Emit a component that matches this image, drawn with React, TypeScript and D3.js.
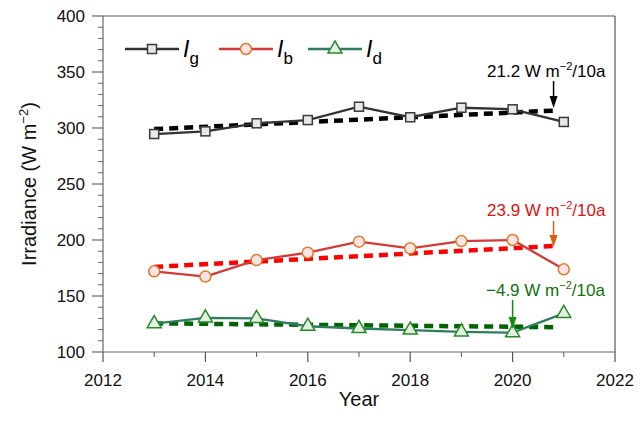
import React from "react";
import * as d3 from "d3";

const years = [2013, 2014, 2015, 2016, 2017, 2018, 2019, 2020, 2021];
const Ig = [294.6, 297, 304.2, 307.1, 319, 309.6, 318.1, 316.7, 305.4];
const Ib = [172, 167.3, 182.1, 188.7, 198.5, 192.6, 199, 200, 173.8];
const Id = [125.3, 130.4, 130, 123, 121, 119.6, 118, 117.3, 134.5];

const trendX = [2013, 2020.8];
const trendIg = [299, 315.5];
const trendIb = [176, 194.6];
const trendId = [125.6, 122.2];

const xTicks = [2012, 2014, 2016, 2018, 2020, 2022];
const yTicks = [100, 150, 200, 250, 300, 350, 400];

const W = 640, H = 426;
const m = { l: 103, r: 615, t: 16, b: 352 };
const FONT = "Liberation Sans, Arial, sans-serif";

export default function App() {
  const x = d3.scaleLinear().domain([2012, 2022]).range([m.l, m.r]);
  const y = d3.scaleLinear().domain([100, 400]).range([m.b, m.t]);
  const line = d3.line<[number, number]>().x(d => x(d[0])).y(d => y(d[1]));
  const pts = (v: number[]) => years.map((yr, i) => [yr, v[i]] as [number, number]);
  const tpts = (v: number[]) => trendX.map((yr, i) => [yr, v[i]] as [number, number]);
  const tri = d3.symbol().type(d3.symbolTriangle).size(85)();
  const minorY = d3.range(100, 401, 10).filter(v => v % 50 !== 0);
  const minorX = d3.range(2013, 2022, 2);

  const series = [
    { v: Ig, t: trendIg, line: "#333333", tcol: "#000000", marker: "sq", mstroke: "#3a3a3a", mfill: "#e8e8e8" },
    { v: Ib, t: trendIb, line: "#d23a3a", tcol: "#ff0000", marker: "ci", mstroke: "#e07a28", mfill: "#fbe4e4" },
    { v: Id, t: trendId, line: "#2e7d5e", tcol: "#006400", marker: "tr", mstroke: "#2a8a2a", mfill: "#e2efe2" },
  ];

  const drawMarker = (s: any, cx: number, cy: number, key: string) => {
    if (s.marker === "sq")
      return <rect key={key} x={cx - 4.5} y={cy - 4.5} width={9} height={9} fill={s.mfill} stroke={s.mstroke} strokeWidth={1.5} />;
    if (s.marker === "ci")
      return <circle key={key} cx={cx} cy={cy} r={5.5} fill={s.mfill} stroke={s.mstroke} strokeWidth={1.5} />;
    return <path key={key} d={tri as string} transform={`translate(${cx},${cy})`} fill={s.mfill} stroke={s.mstroke} strokeWidth={1.5} />;
  };

  const legend = [
    { x0: 125, sub: "g" },
    { x0: 219, sub: "b" },
    { x0: 308, sub: "d" },
  ];

  const annots = [
    { text: "21.2", color: "#000000", acolor: "#000000", tx: 487, ty: 77, ax: x(2020.8), a0: 81, a1: 108 },
    { text: "23.9", color: "#e01010", acolor: "#d86010", tx: 487, ty: 216, ax: x(2020.8), a0: 221, a1: 247 },
    { text: "\u22124.9", color: "#107010", acolor: "#109010", tx: 486, ty: 296, ax: x(2020), a0: 300, a1: 329 },
  ];

  return (
    <svg width={W} height={H} style={{ position: "absolute", left: 0, top: 0, background: "#fff" }} fontFamily={FONT}>
      {series.map((s, i) => (
        <path key={"t" + i} d={line(tpts(s.t)) as string} fill="none" stroke={s.tcol} strokeWidth={4.5} strokeDasharray="9,6" />
      ))}
      {series.map((s, i) => (
        <g key={"s" + i}>
          <path d={line(pts(s.v)) as string} fill="none" stroke={s.line} strokeWidth={2.3} />
          {pts(s.v).map((p, j) => drawMarker(s, x(p[0]), y(p[1]), "m" + j))}
        </g>
      ))}
      {annots.map((a, i) => (
        <g key={"a" + i}>
          <text x={a.tx} y={a.ty} fontSize={17} fill={a.color}>
            {a.text} W m<tspan dy={-7} fontSize={11}>{"\u22122"}</tspan><tspan dy={7}>/10a</tspan>
          </text>
          <line x1={a.ax} x2={a.ax} y1={a.a0} y2={a.a1 - 10} stroke={a.acolor} strokeWidth={1.5} />
          <path d={`M${a.ax - 4},${a.a1 - 12}L${a.ax + 4},${a.a1 - 12}L${a.ax},${a.a1}Z`} fill={a.acolor} />
        </g>
      ))}
      {legend.map((l, i) => {
        const s = series[i];
        return (
          <g key={"l" + i}>
            <line x1={l.x0} x2={l.x0 + 54} y1={49} y2={49} stroke={s.line} strokeWidth={2.3} />
            {drawMarker(s, l.x0 + 27, 49, "lm")}
            <text x={l.x0 + 58} y={57} fontSize={23} fill="#000">
              <tspan fontStyle="italic">I</tspan>
              <tspan dy={7} fontSize={17}>{l.sub}</tspan>
            </text>
          </g>
        );
      })}
      <line x1={m.l} x2={m.r} y1={m.t} y2={m.t} stroke="#555" strokeWidth={1.2} />
      <line x1={m.r} x2={m.r} y1={m.t} y2={m.b} stroke="#555" strokeWidth={1.2} />
      <line x1={m.l} x2={m.l} y1={m.t} y2={m.b} stroke="#666" strokeWidth={1.2} />
      <line x1={m.l} x2={m.r} y1={m.b} y2={m.b} stroke="#999" strokeWidth={1.5} />
      {yTicks.map(v => (
        <g key={"yt" + v}>
          <line x1={m.l - 11} x2={m.l} y1={y(v)} y2={y(v)} stroke="#666" strokeWidth={1.2} />
          <text x={m.l - 18} y={y(v)} dy="0.35em" textAnchor="end" fontSize={17} fill="#111">{v}</text>
        </g>
      ))}
      {minorY.map(v => (
        <line key={"ym" + v} x1={m.l - 5} x2={m.l} y1={y(v)} y2={y(v)} stroke="#666" strokeWidth={1} />
      ))}
      {xTicks.map(v => (
        <g key={"xt" + v}>
          <line x1={x(v)} x2={x(v)} y1={m.b} y2={m.b + 10} stroke="#555" strokeWidth={1.2} />
          <text x={x(v)} y={m.b + 34} textAnchor="middle" fontSize={17} fill="#111">{v}</text>
        </g>
      ))}
      {minorX.map(v => (
        <line key={"xm" + v} x1={x(v)} x2={x(v)} y1={m.b} y2={m.b + 5} stroke="#555" strokeWidth={1} />
      ))}
      <text x={(m.l + m.r) / 2} y={406} textAnchor="middle" fontSize={20} fill="#111">Year</text>
      <text transform={`translate(36,${(m.t + m.b) / 2}) rotate(-90)`} textAnchor="middle" fontSize={20} fill="#111">
        Irradiance (W m<tspan dy={-8} fontSize={13}>{"\u22122"}</tspan><tspan dy={8}>)</tspan>
      </text>
    </svg>
  );
}
